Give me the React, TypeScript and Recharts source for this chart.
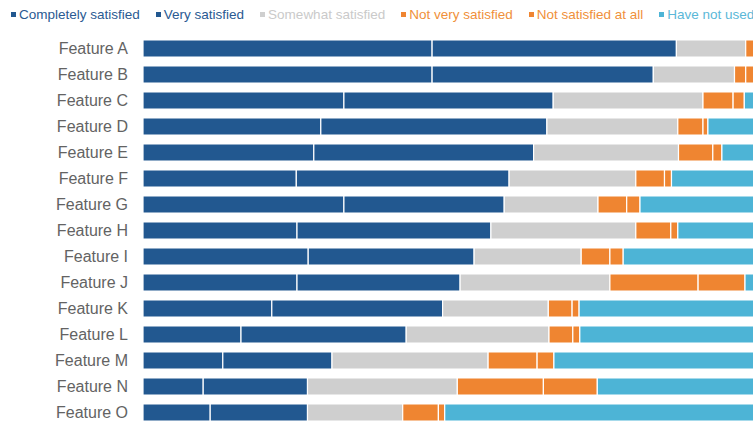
import React from "react";
import { BarChart, Bar, XAxis, YAxis } from "recharts";

const categories = ["Feature A","Feature B","Feature C","Feature D","Feature E","Feature F","Feature G","Feature H","Feature I","Feature J","Feature K","Feature L","Feature M","Feature N","Feature O"];
const completelySatisfied = [41.3,41.3,28.7,25.4,24.4,21.9,28.7,22.0,23.6,22.0,18.4,14.0,11.4,8.6,9.6];
const verySatisfied = [34.9,31.6,29.9,32.3,31.4,30.4,22.9,27.7,23.7,23.3,24.4,23.6,15.6,14.9,13.9];
const somewhatSatisfied = [9.9,11.6,21.4,18.7,20.7,18.1,13.4,20.7,15.3,21.4,15.1,20.4,22.3,21.4,13.6];
const notVerySatisfied = [1.5,1.6,4.3,3.6,4.9,4.1,4.1,5.0,4.1,12.6,3.4,3.4,7.0,12.3,5.1];
const notSatisfiedAtAll = [1.0,1.5,1.6,0.7,1.3,1.0,1.9,1.0,1.9,6.7,1.0,1.0,2.4,7.7,0.9];
const haveNotUsed = [11.4,12.4,14.1,19.3,17.3,24.5,29.0,23.6,31.4,14.0,37.7,37.6,41.3,35.1,56.9];

const seriesNames = ["Completely satisfied","Very satisfied","Somewhat satisfied","Not very satisfied","Not satisfied at all","Have not used"];
const seriesKeys = ["cs","vs","ss","nvs","nsa","hnu"];
const barColors = ["#225890","#225890","#cfcfcf","#ef8531","#ef8531","#4db4d6"];
const legendTextColors = ["#2a5a92","#2a5a92","#cacaca","#f0903a","#f0903a","#5ab8d8"];

const data = categories.map((name, i) => ({
  name,
  cs: completelySatisfied[i],
  vs: verySatisfied[i],
  ss: somewhatSatisfied[i],
  nvs: notVerySatisfied[i],
  nsa: notSatisfiedAtAll[i],
  hnu: haveNotUsed[i],
}));

const font = "'Liberation Sans', Arial, sans-serif";

function LegendRow() {
  return (
    <div style={{ position: "absolute", top: 7, left: 11, display: "flex", whiteSpace: "nowrap", fontFamily: font, fontSize: 13.5 }}>
      {seriesNames.map((n, i) => (
        <div key={n} style={{ display: "flex", alignItems: "center", marginRight: 16 }}>
          <span style={{ display: "inline-block", width: 5, height: 5, background: barColors[i], marginRight: 3 }} />
          <span style={{ color: legendTextColors[i] }}>{n}</span>
        </div>
      ))}
    </div>
  );
}

export default function App() {
  return (
    <div style={{ position: "absolute", left: 0, top: 0, width: 753, height: 423, overflow: "hidden", background: "#fff" }}>
      <BarChart
        width={900}
        height={440}
        data={data}
        layout="vertical"
        margin={{ top: 35, right: 57, bottom: 15, left: 0 }}
        barSize={17}
      >
        <XAxis type="number" domain={[0, 100]} hide />
        <YAxis
          type="category"
          dataKey="name"
          width={143}
          axisLine={false}
          tickLine={false}
          tickSize={0}
          tickMargin={15}
          interval={0}
          tick={{ fill: "#636363", fontSize: 16, fontFamily: font }}
        />
        {seriesKeys.map((k, i) => (
          <Bar
            key={k}
            dataKey={k}
            name={seriesNames[i]}
            stackId="a"
            fill={barColors[i]}
            stroke="#ffffff"
            strokeWidth={1.2}
            isAnimationActive={false}
          />
        ))}
      </BarChart>
      <LegendRow />
    </div>
  );
}
